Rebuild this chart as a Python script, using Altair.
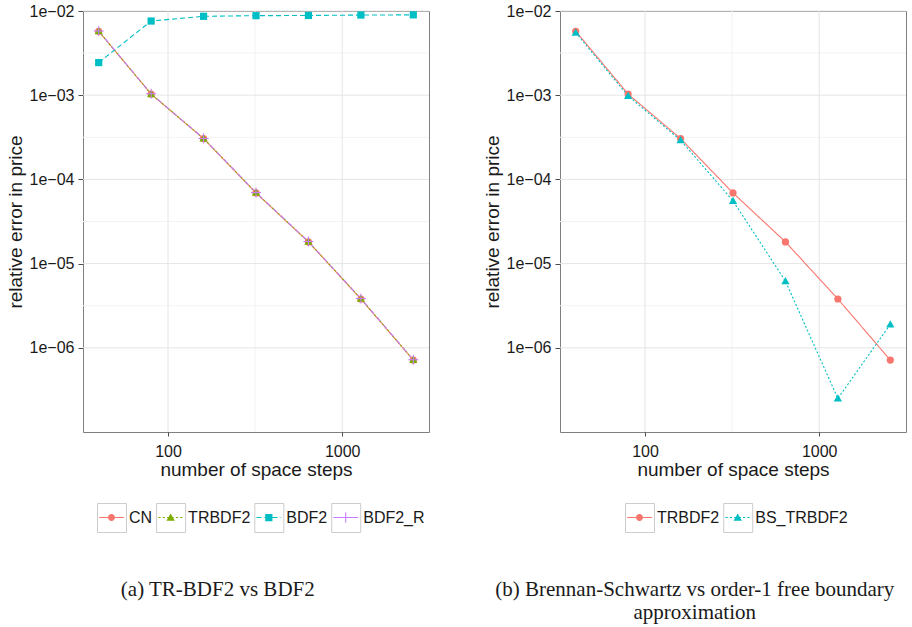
import altair as alt
import pandas as pd

# Grid sizes (number of space steps) shared by every series
steps = [40, 80, 160, 320, 640, 1280, 2560]

# (a) TR-BDF2 vs BDF2
names_a = ["CN", "TRBDF2", "BDF2", "BDF2_R"]
cn_err = [5.75e-3, 1.03e-3, 3.05e-4, 6.9e-5, 1.81e-5, 3.80e-6, 7.15e-7]
trbdf2_err = [5.75e-3, 1.03e-3, 3.06e-4, 6.95e-5, 1.82e-5, 3.82e-6, 7.18e-7]
bdf2_err = [2.44e-3, 7.6e-3, 8.65e-3, 8.8e-3, 8.85e-3, 8.95e-3, 9.0e-3]
bdf2r_err = [5.78e-3, 1.04e-3, 3.07e-4, 7.0e-5, 1.83e-5, 3.85e-6, 7.22e-7]

# (b) Brennan-Schwartz vs order-1 free boundary approximation
names_b = ["TRBDF2", "BS_TRBDF2"]
trbdf2_b_err = [5.75e-3, 1.03e-3, 3.05e-4, 6.9e-5, 1.81e-5, 3.80e-6, 7.15e-7]
bs_trbdf2_err = [5.54e-3, 9.8e-4, 2.92e-4, 5.56e-5, 6.2e-6, 2.5e-7, 1.9e-6]

# Axis breaks and limits
x_major = [100, 1000]
x_minor = [316.2]
y_major = [1e-2, 1e-3, 1e-4, 1e-5, 1e-6]
y_minor = [3.162e-3, 3.162e-4, 3.162e-5, 3.162e-6]
x_limits = [32.5, 3150]
y_limits = [1e-7, 1e-2]

hue4 = ["#F8766D", "#7CAE00", "#00BFC4", "#C77CFF"]
hue2 = ["#F8766D", "#00BFC4"]

SANS = "Liberation Sans"
SERIF = "Liberation Serif"
INK = "#1a1a1a"
LABEL_SIZE = 16

# Advance widths (1/1000 em) of the sans face, used to space the legend keys
ADVANCE = {"C": 722, "N": 722, "T": 611, "R": 722, "B": 667, "D": 722,
           "F": 611, "2": 556, "_": 556, "S": 667}


def text_width(s, size=LABEL_SIZE):
    return sum(ADVANCE.get(c, 556) for c in s) * size / 1000.0


def long_table(names, series):
    rows = []
    for name, vals in zip(names, series):
        for s, v in zip(steps, vals):
            rows.append({"method": name, "steps": s, "err": v})
    return pd.DataFrame(rows)


# ---- symbol paths (unit square -1..1) ----
def rect(x0, x1, y0, y1):
    return f"M{x0:.3f},{y0:.3f}H{x1:.3f}V{y1:.3f}H{x0:.3f}Z"


def circle(r):
    return f"M{-r:.3f},0A{r:.3f},{r:.3f} 0 1,1 {r:.3f},0A{r:.3f},{r:.3f} 0 1,1 {-r:.3f},0Z"


def triangle(w, top, base):
    return f"M0,{top:.3f}L{w:.3f},{base:.3f}L{-w:.3f},{base:.3f}Z"


def plus(a, t):
    return rect(-a, a, -t, t) + rect(-t, t, -a, a)


KEY_PX = 29            # key box side
KEY_UNIT = KEY_PX / 2  # pixels per path unit
LINE_HALF = 0.038
LABEL_OFFSET = 3
COLUMN_GAP = 4


def key_line(dash=None, reach=0.85):
    if dash is None:
        return rect(-reach, reach, -LINE_HALF, LINE_HALF)
    on, off = dash[0] / KEY_UNIT, dash[1] / KEY_UNIT
    parts, x = [], -reach
    while x < reach:
        parts.append(rect(x, min(x + on, reach), -LINE_HALF, LINE_HALF))
        x += on + off
    return "".join(parts)


BOX = rect(-1, 1, -1, 1)
KEY_CIRCLE = circle(0.24)
KEY_TRIANGLE = triangle(0.29, -0.27, 0.22)
KEY_SQUARE = rect(-0.25, 0.25, -0.25, 0.25)
KEY_PLUS = plus(0.36, 0.036)

PT_TRIANGLE = triangle(1.15, -1.15, 0.85)
PT_PLUS = plus(1.4, 0.14)


def panel(names, series, colors, dashes, markers, key_paths, legend_x, caption):
    data = long_table(names, series)

    xs = alt.Scale(type="log", domain=x_limits, nice=False, zero=False)
    ys = alt.Scale(type="log", domain=y_limits, nice=False, zero=False)

    x_axis = alt.Axis(
        values=x_major, format="d", grid=False, domain=False,
        tickSize=4, tickColor="#4d4d4d", labelPadding=7,
        labelFont=SANS, labelFontSize=16, labelColor=INK,
        title="number of space steps", titleFont=SANS, titleFontSize=19,
        titleFontWeight="normal", titleColor=INK, titlePadding=1,
    )
    y_axis = alt.Axis(
        values=y_major, grid=False, domain=False,
        labelExpr="'1e\u22120' + format(-round(log(datum.value) / LN10), 'd')",
        tickSize=5, tickColor="#4d4d4d", labelPadding=4,
        labelFont=SANS, labelFontSize=16, labelColor=INK,
        title="relative error in price", titleFont=SANS, titleFontSize=19,
        titleFontWeight="normal", titleColor=INK, titlePadding=4,
    )

    def xenc(field):
        return alt.X(field, scale=xs, axis=x_axis)

    def yenc(field):
        return alt.Y(field, scale=ys, axis=y_axis)

    layers = [
        alt.Chart(pd.DataFrame({"v": x_minor})).mark_rule(color="#f3f3f3", strokeWidth=1)
        .encode(x=xenc("v:Q")),
        alt.Chart(pd.DataFrame({"v": y_minor})).mark_rule(color="#f3f3f3", strokeWidth=1)
        .encode(y=yenc("v:Q")),
        alt.Chart(pd.DataFrame({"v": x_major})).mark_rule(color="#e5e5e5", strokeWidth=1)
        .encode(x=xenc("v:Q")),
        alt.Chart(pd.DataFrame({"v": y_major})).mark_rule(color="#e5e5e5", strokeWidth=1)
        .encode(y=yenc("v:Q")),
        alt.Chart(data).mark_line(strokeWidth=1.1).encode(
            x=xenc("steps:Q"),
            y=yenc("err:Q"),
            color=alt.Color("method:N", scale=alt.Scale(domain=names, range=colors), legend=None),
            strokeDash=alt.StrokeDash("method:N", scale=alt.Scale(domain=names, range=dashes), legend=None),
            order=alt.Order("steps:Q"),
        ),
        alt.Chart(data).mark_point(filled=True, size=52, opacity=1).encode(
            x=xenc("steps:Q"),
            y=yenc("err:Q"),
            color=alt.Color("method:N", scale=alt.Scale(domain=names, range=colors), legend=None),
            shape=alt.Shape("method:N", scale=alt.Scale(domain=names, range=markers), legend=None),
        ),
    ]

    # One legend entry per series: a grey key box and the coloured line/marker key with its label
    common = dict(
        title=None, orient="none", legendY=492, symbolSize=KEY_PX * KEY_PX,
        labelFont=SANS, labelFontSize=LABEL_SIZE, labelOffset=LABEL_OFFSET,
        padding=0, symbolOpacity=1,
    )
    pos = legend_x
    for name, color, path in zip(names, colors, key_paths):
        one = pd.DataFrame({"method": [name]})
        box_legend = alt.Legend(**common, legendX=pos, labelExpr="''", symbolType=BOX,
                                symbolStrokeWidth=1, symbolFillColor="white")
        layers.append(
            alt.Chart(one).mark_point(filled=False, opacity=0, shape=BOX).encode(
                stroke=alt.Stroke("method:N", scale=alt.Scale(domain=[name], range=["#cccccc"]),
                                  legend=box_legend)
            )
        )
        key_legend = alt.Legend(**common, legendX=pos, labelColor=INK, symbolStrokeWidth=0)
        layers.append(
            alt.Chart(one).mark_point(filled=True, opacity=0).encode(
                color=alt.Color("method:N", scale=alt.Scale(domain=[name], range=[color]),
                                legend=key_legend),
                shape=alt.Shape("method:N", scale=alt.Scale(domain=[name], range=[path]),
                                legend=key_legend),
            )
        )
        pos += KEY_PX + LABEL_OFFSET + text_width(name) + COLUMN_GAP

    return alt.layer(*layers).resolve_scale(
        color="independent", shape="independent", strokeDash="independent", stroke="independent"
    ).properties(
        width=346, height=421,
        title=alt.TitleParams(
            text=caption, orient="bottom", anchor="middle", frame="bounds",
            font=SERIF, fontSize=21, fontWeight="normal", color=INK,
            offset=44, lineHeight=23,
        ),
    )


left = panel(
    names_a, [cn_err, trbdf2_err, bdf2_err, bdf2r_err], hue4,
    [[1, 0], [2, 2], [5, 3], [5, 5]],
    ["circle", PT_TRIANGLE, "square", PT_PLUS],
    [
        key_line() + KEY_CIRCLE,
        key_line((2.2, 2.2)) + KEY_TRIANGLE,
        key_line((5, 3)) + KEY_SQUARE,
        key_line() + KEY_PLUS,
    ],
    14, "(a) TR-BDF2 vs BDF2",
)
right = panel(
    names_b, [trbdf2_b_err, bs_trbdf2_err], hue2,
    [[1, 0], [2, 2]],
    ["circle", PT_TRIANGLE],
    [
        key_line() + KEY_CIRCLE,
        key_line((2.2, 2.2)) + KEY_TRIANGLE,
    ],
    65, ["(b) Brennan-Schwartz vs order-1 free boundary", "approximation"],
)

chart = alt.hconcat(left, right, spacing=52).resolve_scale(
    color="independent", shape="independent", strokeDash="independent", stroke="independent"
).properties(
    padding={"left": 5, "top": 2, "right": 0, "bottom": 0},
    background="white",
).configure_view(stroke="#7f7f7f", strokeWidth=1)

chart.save("out.html", embed_options={"renderer": "svg", "actions": False})
